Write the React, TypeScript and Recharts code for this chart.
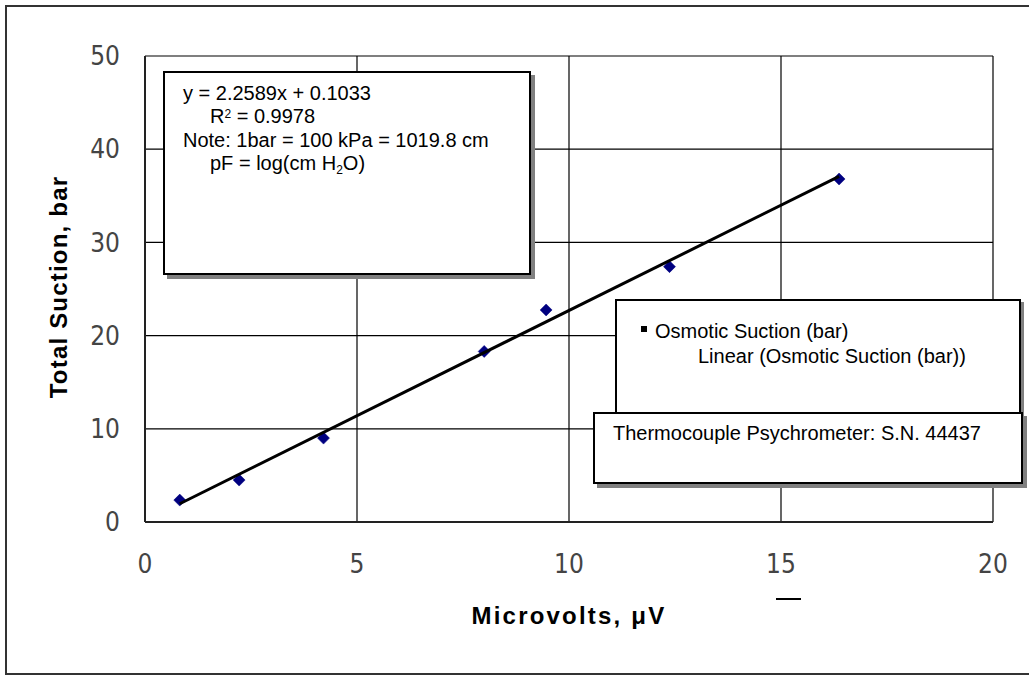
import React from 'react';
import { ScatterChart, Scatter, XAxis, YAxis, CartesianGrid, Legend } from 'recharts';

// Data
const microvolts = [0.82, 2.22, 4.21, 8.0, 9.46, 12.37, 16.37];
const osmoticSuction = [2.35, 4.5, 9.0, 18.3, 22.75, 27.4, 36.8];
const trendMicrovolts = [0.82, 16.37];
const trendSuction = [1.96, 37.08];
const xTicks = [0, 5, 10, 15, 20];
const yTicks = [0, 10, 20, 30, 40, 50];
const seriesName = 'Osmotic Suction (bar)';
const trendName = 'Linear (Osmotic Suction (bar))';
const xTitle = 'Microvolts, \u03BCV';
const yTitle = 'Total Suction, bar';
const noteText = 'Thermocouple Psychrometer: S.N. 44437';

const pointData = microvolts.map((x, i) => ({ x, y: osmoticSuction[i] }));
const trendData = trendMicrovolts.map((x, i) => ({ x, y: trendSuction[i] }));

const tickFont = {
  fontFamily: "'Liberation Sans Narrow', 'Arial Narrow', 'DejaVu Sans Condensed', sans-serif",
  fontSize: 26,
  fill: '#444',
};

const Diamond = (props: any) => {
  const { cx, cy } = props;
  if (cx == null || cy == null) return <g />;
  const r = 6;
  return (
    <polygon
      points={`${cx},${cy - r} ${cx + r},${cy} ${cx},${cy + r} ${cx - r},${cy}`}
      fill="#000080"
      stroke="#000080"
      strokeWidth={0.5}
    />
  );
};

const NoShape = () => <g />;

const LegendContent = (props: any) => {
  const payload = props.payload || [];
  const main = payload.find((p: any) => p.value === seriesName);
  const trend = payload.find((p: any) => p.value === trendName);
  return (
    <div style={{ fontFamily: 'Arial, "Liberation Sans", sans-serif', fontSize: 20, color: '#000', position: 'relative', width: '100%', height: '100%' }}>
      {main && (
        <div style={{ position: 'absolute', left: 38, top: 19, lineHeight: '23px', whiteSpace: 'nowrap' }}>
          <span style={{ position: 'absolute', left: -14, top: 6, width: 6, height: 6, background: '#000' }} />
          {main.value}
        </div>
      )}
      {trend && (
        <div style={{ position: 'absolute', left: 81, top: 44, lineHeight: '23px', whiteSpace: 'nowrap' }}>
          {trend.value}
        </div>
      )}
    </div>
  );
};

const boxStyle: React.CSSProperties = {
  position: 'absolute',
  boxSizing: 'border-box',
  background: '#fff',
  border: '2px solid #000',
  boxShadow: '4px 4px 0 #808080',
  fontFamily: 'Arial, "Liberation Sans", sans-serif',
  fontSize: 20,
  color: '#000',
  lineHeight: '23px',
  whiteSpace: 'nowrap',
};

export default function App() {
  return (
    <div style={{ position: 'absolute', left: 0, top: 0, width: 1029, height: 677, overflow: 'hidden', background: '#fff' }}>
      <div style={{ position: 'absolute', left: 5, top: 5, width: 1040, height: 670, boxSizing: 'border-box', border: '2px solid #333' }} />
      <div style={{ position: 'absolute', left: 0, top: 0 }}>
        <ScatterChart width={1029} height={677} margin={{ top: 56, right: 36, bottom: 0, left: 0 }}>
          <CartesianGrid stroke="#000" strokeWidth={1.2} horizontalValues={yTicks} verticalValues={xTicks} />
          <XAxis
            type="number"
            dataKey="x"
            domain={[0, 20]}
            ticks={xTicks}
            height={155}
            tickSize={0}
            tickMargin={33}
            tickLine={false}
            axisLine={{ stroke: '#222', strokeWidth: 2 }}
            tick={tickFont}
            label={{
              value: xTitle,
              position: 'center',
              dy: 16,
              style: { fontFamily: 'Arial, "Liberation Sans", sans-serif', fontSize: 24, fontWeight: 'bold', fill: '#000', letterSpacing: 2.2 },
            }}
          />
          <YAxis
            type="number"
            dataKey="y"
            domain={[0, 50]}
            ticks={yTicks}
            width={145}
            tickSize={0}
            tickMargin={25}
            tickLine={false}
            axisLine={{ stroke: '#222', strokeWidth: 2 }}
            tick={tickFont}
            label={{
              value: yTitle,
              angle: -90,
              position: 'center',
              dx: -14,
              dy: -2,
              style: { fontFamily: 'Arial, "Liberation Sans", sans-serif', fontSize: 24, fontWeight: 'bold', fill: '#000', letterSpacing: 1.2, textAnchor: 'middle' },
            }}
          />
          <Legend
            layout="vertical"
            align="center"
            verticalAlign="middle"
            content={<LegendContent />}
            wrapperStyle={{
              left: 615,
              top: 299,
              width: 406,
              height: 125,
              boxSizing: 'border-box',
              background: '#fff',
              border: '2px solid #000',
              boxShadow: '3px 3px 0 #808080',
              zIndex: 1,
            }}
          />
          <Scatter name={seriesName} data={pointData} shape={Diamond} fill="#000080" legendType="square" isAnimationActive={false} />
          <Scatter
            name={trendName}
            data={trendData}
            line={{ stroke: '#000', strokeWidth: 3 }}
            shape={NoShape}
            fill="#000"
            legendType="none"
            isAnimationActive={false}
          />
        </ScatterChart>
      </div>
      <div style={{ ...boxStyle, left: 163, top: 71, width: 368, height: 204, zIndex: 2 }}>
        <div style={{ position: 'absolute', left: 18, top: 9 }}>y = 2.2589x + 0.1033</div>
        <div style={{ position: 'absolute', left: 45, top: 32 }}>
          R<sup style={{ fontSize: 12, verticalAlign: 'top', position: 'relative', top: -2 }}>2</sup> = 0.9978
        </div>
        <div style={{ position: 'absolute', left: 18, top: 56 }}>Note: 1bar = 100 kPa = 1019.8 cm</div>
        <div style={{ position: 'absolute', left: 45, top: 79 }}>
          pF = log(cm H<sub style={{ fontSize: 12, verticalAlign: 'baseline', position: 'relative', top: 4 }}>2</sub>O)
        </div>
      </div>
      <div style={{ ...boxStyle, left: 593, top: 412, width: 430, height: 72, zIndex: 3 }}>
        <div style={{ position: 'absolute', left: 18, top: 8 }}>{noteText}</div>
      </div>
      <div style={{ position: 'absolute', left: 776, top: 598, width: 25, height: 2, background: '#000' }} />
    </div>
  );
}
